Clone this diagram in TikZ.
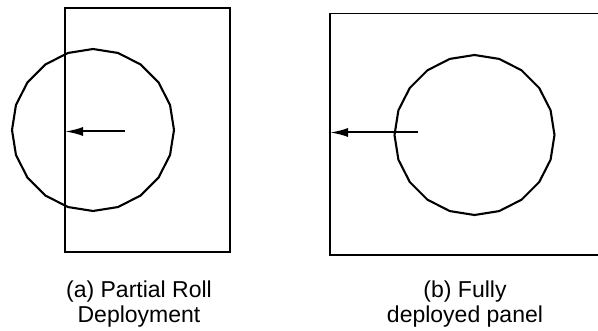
\documentclass[tikz,border=0pt]{standalone}
\usepackage{fontspec}
\setmainfont{Liberation Sans}
\usetikzlibrary{arrows.meta}

\tikzset{
  frame/.style={line width=1.7pt},
  roll/.style={line width=2.1pt, line join=round},
  pull/.style={line width=2pt, -{Latex[length=18pt,width=9pt]}},
  caption/.style={align=center, font=\fontsize{23}{25}\selectfont, inner sep=0pt}
}

\begin{document}
\begin{tikzpicture}[x=1pt, y=-1pt]
  \useasboundingbox (0,0) rectangle (598,331);
  \clip (0,0) rectangle (598,331);

  % (a) partially unrolled panel
  \draw[frame] (65,8) rectangle (230,252);
  \draw[roll] plot[samples=21, domain=90:450] ({93+81*cos(\x)}, {130-81*sin(\x)}) -- cycle;
  \coordinate (aStart) at (125,131.5);
  \coordinate (aEnd) at (65,131.5);
  \draw[pull] (aStart) -- (aEnd);
  \node[caption, anchor=base] (capA) at (139,323) {(a) Partial Roll\\Deployment};

  % (b) fully deployed panel, running past the right edge
  \draw[frame] (600,13.5) -- (330,13.5) -- (330,255) -- (600,255);
  \draw[roll] plot[samples=21, domain=90:450] ({474.5+80*cos(\x)}, {135-80*sin(\x)}) -- cycle;
  \coordinate (bStart) at (418,132.5);
  \coordinate (bEnd) at (330,132.5);
  \draw[pull] (bStart) -- (bEnd);
  \node[caption, anchor=base] (capB) at (465,323) {(b) Fully\\deployed panel};
\end{tikzpicture}
\end{document}
